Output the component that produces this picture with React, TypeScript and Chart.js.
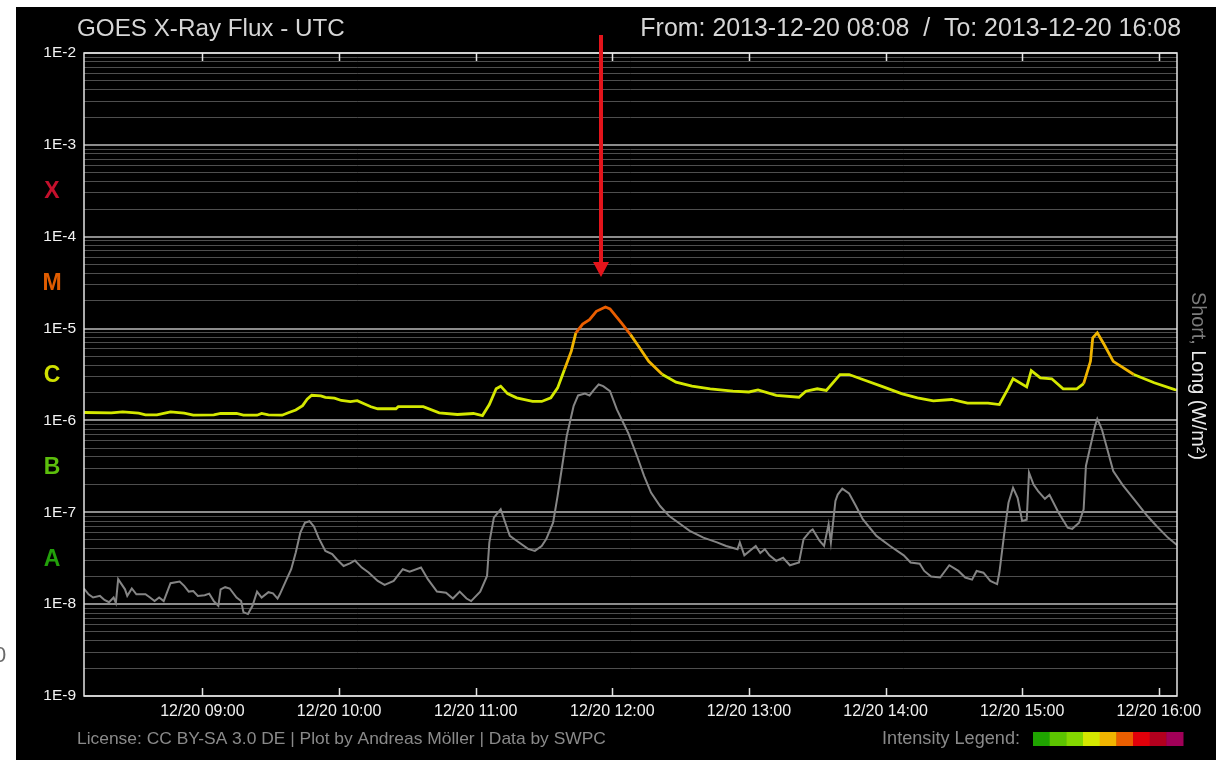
import React, { useEffect, useRef } from "react";
import { Chart, registerables } from "chart.js";

Chart.register(...registerables);

// GOES long channel (1-8 Å), W/m²
const longTimes = [
  "08:08", "08:20", "08:25", "08:32", "08:35", "08:40", "08:46", "08:52", "08:56", "09:05",
  "09:08", "09:15", "09:18", "09:24", "09:26", "09:29", "09:35", "09:38", "09:41", "09:44",
  "09:46", "09:48", "09:52", "09:54", "09:58", "10:01", "10:05", "10:08", "10:11", "10:14",
  "10:17", "10:25", "10:26", "10:37", "10:44", "10:52", "10:59", "11:03", "11:06", "11:09",
  "11:11", "11:14", "11:18", "11:25", "11:29", "11:33", "11:36", "11:39", "11:42", "11:44",
  "11:47", "11:50", "11:53", "11:57", "11:59", "12:04", "12:08", "12:11", "12:16", "12:22",
  "12:28", "12:35", "12:43", "12:53", "13:00", "13:04", "13:12", "13:22", "13:25", "13:30",
  "13:34", "13:40", "13:44", "13:50", "13:59", "14:07", "14:14", "14:21", "14:29", "14:36",
  "14:45", "14:50", "14:54", "14:56", "15:02", "15:04", "15:08", "15:13", "15:18", "15:24",
  "15:27", "15:30", "15:31", "15:33", "15:36", "15:40", "15:49", "15:58", "16:07", "16:08",
];
const longFlux = [
  1.22e-6, 1.21e-6, 1.24e-6, 1.2e-6, 1.15e-6, 1.15e-6, 1.24e-6, 1.2e-6, 1.14e-6, 1.15e-6,
  1.19e-6, 1.19e-6, 1.14e-6, 1.14e-6, 1.19e-6, 1.15e-6, 1.14e-6, 1.22e-6, 1.3e-6, 1.45e-6,
  1.7e-6, 1.88e-6, 1.85e-6, 1.78e-6, 1.75e-6, 1.65e-6, 1.6e-6, 1.64e-6, 1.52e-6, 1.41e-6,
  1.34e-6, 1.34e-6, 1.41e-6, 1.41e-6, 1.21e-6, 1.16e-6, 1.19e-6, 1.13e-6, 1.49e-6, 2.21e-6,
  2.36e-6, 1.96e-6, 1.76e-6, 1.61e-6, 1.61e-6, 1.76e-6, 2.26e-6, 3.58e-6, 5.67e-6, 8.97e-6,
  1.12e-5, 1.25e-5, 1.54e-5, 1.72e-5, 1.64e-5, 1.15e-5, 8.6e-6, 6.7e-6, 4.4e-6, 3.16e-6,
  2.61e-6, 2.36e-6, 2.21e-6, 2.08e-6, 2.04e-6, 2.15e-6, 1.87e-6, 1.79e-6, 2.08e-6, 2.21e-6,
  2.12e-6, 3.16e-6, 3.16e-6, 2.79e-6, 2.32e-6, 1.96e-6, 1.76e-6, 1.63e-6, 1.69e-6, 1.54e-6,
  1.54e-6, 1.49e-6, 2.26e-6, 2.84e-6, 2.32e-6, 3.49e-6, 2.9e-6, 2.84e-6, 2.21e-6, 2.21e-6,
  2.52e-6, 4.4e-6, 7.92e-6, 8.97e-6, 6.7e-6, 4.4e-6, 3.16e-6, 2.57e-6, 2.17e-6, 2.15e-6,
];

// GOES short channel (0.5-4 Å), W/m²
const shortTimes = [
  "08:08", "08:10", "08:12", "08:15", "08:17", "08:19", "08:21", "08:22", "08:23", "08:26",
  "08:27", "08:29", "08:31", "08:35", "08:37", "08:39", "08:41", "08:43", "08:46", "08:50",
  "08:52", "08:54", "08:56", "08:58", "09:01", "09:03", "09:05", "09:07", "09:08", "09:10",
  "09:12", "09:15", "09:17", "09:18", "09:20", "09:22", "09:24", "09:26", "09:29", "09:31",
  "09:33", "09:34", "09:37", "09:39", "09:41", "09:43", "09:45", "09:47", "09:49", "09:51",
  "09:54", "09:57", "09:59", "10:02", "10:05", "10:07", "10:10", "10:13", "10:17", "10:20",
  "10:24", "10:28", "10:31", "10:36", "10:39", "10:43", "10:47", "10:50", "10:53", "10:56",
  "10:58", "11:02", "11:05", "11:06", "11:08", "11:11", "11:13", "11:15", "11:18", "11:23",
  "11:26", "11:29", "11:31", "11:34", "11:36", "11:38", "11:40", "11:43", "11:45", "11:48",
  "11:50", "11:52", "11:54", "11:56", "11:59", "12:02", "12:07", "12:11", "12:14", "12:17",
  "12:21", "12:25", "12:30", "12:34", "12:40", "12:46", "12:50", "12:55", "12:56", "12:58",
  "13:03", "13:05", "13:07", "13:09", "13:12", "13:15", "13:18", "13:22", "13:24", "13:27",
  "13:28", "13:31", "13:33", "13:35", "13:36", "13:38", "13:39", "13:41", "13:44", "13:47",
  "13:50", "13:56", "14:02", "14:08", "14:11", "14:15", "14:17", "14:20", "14:24", "14:28",
  "14:32", "14:35", "14:38", "14:40", "14:43", "14:46", "14:49", "14:50", "14:52", "14:54",
  "14:56", "14:58", "15:00", "15:02", "15:03", "15:05", "15:07", "15:10", "15:12", "15:16",
  "15:20", "15:22", "15:25", "15:27", "15:28", "15:30", "15:32", "15:33", "15:35", "15:37",
  "15:40", "15:44", "15:49", "15:55", "15:59", "16:04", "16:08",
];
const shortFlux = [
  1.48e-8, 1.28e-8, 1.18e-8, 1.23e-8, 1.11e-8, 1.05e-8, 1.18e-8, 1.03e-8, 1.87e-8, 1.45e-8,
  1.23e-8, 1.48e-8, 1.28e-8, 1.28e-8, 1.18e-8, 1.08e-8, 1.18e-8, 1.08e-8, 1.69e-8, 1.76e-8,
  1.58e-8, 1.37e-8, 1.39e-8, 1.23e-8, 1.25e-8, 1.3e-8, 1.08e-8, 9.6e-9, 1.45e-8, 1.53e-8,
  1.48e-8, 1.18e-8, 1.08e-8, 8.2e-9, 7.8e-9, 9.6e-9, 1.37e-8, 1.18e-8, 1.35e-8, 1.31e-8,
  1.15e-8, 1.28e-8, 1.87e-8, 2.4e-8, 3.65e-8, 6.0e-8, 7.7e-8, 8.0e-8, 7.0e-8, 5.3e-8,
  3.8e-8, 3.5e-8, 3.08e-8, 2.6e-8, 2.8e-8, 2.99e-8, 2.5e-8, 2.21e-8, 1.79e-8, 1.62e-8,
  1.79e-8, 2.4e-8, 2.25e-8, 2.5e-8, 1.87e-8, 1.37e-8, 1.33e-8, 1.15e-8, 1.37e-8, 1.15e-8,
  1.08e-8, 1.37e-8, 2.03e-8, 4.68e-8, 8.75e-8, 1.08e-7, 7.7e-8, 5.53e-8, 4.9e-8, 4.0e-8,
  3.8e-8, 4.3e-8, 5.1e-8, 7.7e-8, 1.51e-7, 3.19e-7, 6.76e-7, 1.43e-6, 1.87e-6, 1.96e-6,
  1.87e-6, 2.17e-6, 2.46e-6, 2.36e-6, 2.08e-6, 1.32e-6, 7.3e-7, 4.0e-7, 2.48e-7, 1.64e-7,
  1.17e-7, 9.1e-8, 7.4e-8, 6.27e-8, 5.3e-8, 4.7e-8, 4.3e-8, 3.96e-8, 4.7e-8, 3.4e-8,
  4.3e-8, 3.6e-8, 3.96e-8, 3.4e-8, 2.96e-8, 3.2e-8, 2.65e-8, 2.85e-8, 5.1e-8, 6.27e-8,
  6.5e-8, 4.9e-8, 4.3e-8, 7.4e-8, 4.7e-8, 1.33e-7, 1.56e-7, 1.81e-7, 1.6e-7, 1.17e-7,
  8.4e-8, 5.53e-8, 4.3e-8, 3.4e-8, 2.84e-8, 2.75e-8, 2.3e-8, 2.0e-8, 1.95e-8, 2.65e-8,
  2.3e-8, 1.95e-8, 1.85e-8, 2.3e-8, 2.2e-8, 1.79e-8, 1.65e-8, 2.21e-8, 5.53e-8, 1.27e-7,
  1.85e-7, 1.44e-7, 8.05e-8, 8.3e-8, 2.7e-7, 2.0e-7, 1.7e-7, 1.4e-7, 1.55e-7, 9.9e-8,
  6.8e-8, 6.6e-8, 7.7e-8, 1.08e-7, 3.19e-7, 5.26e-7, 8.67e-7, 1.04e-6, 8.0e-7, 5.26e-7,
  2.81e-7, 2.0e-7, 1.4e-7, 9.1e-8, 7.1e-8, 5.3e-8, 4.4e-8,
];

const dateLabel = "12/20";
const fromStamp = "2013-12-20 08:08";
const toStamp = "2013-12-20 16:08";
const rangeStart = "08:08";
const rangeEnd = "16:08";
const hourTicks = ["09:00", "10:00", "11:00", "12:00", "13:00", "14:00", "15:00", "16:00"];
const markerTime = "11:55";

// Flare classes and their lower flux bounds
const classLetters = ["A", "B", "C", "M", "X"];
const classFloors = [1e-8, 1e-7, 1e-6, 1e-5, 1e-4];
const classColors = ["#22a00a", "#5cbe0c", "#cfe000", "#e05c00", "#c4102c"];

// Intensity legend: colour steps for the long channel
const intensityFloors = [0, 1e-7, 5e-7, 1e-6, 4e-6, 1e-5, 5e-5, 1e-4, 1e-3];
const intensityColors = [
  "#1fa300", "#5cc400", "#84d800", "#d4e800", "#f0b400",
  "#ea5e00", "#e0000a", "#b2001e", "#a00058",
];

const FONT = '"Liberation Sans", Arial, Helvetica, sans-serif';

const toMin = (s: string) => {
  const [h, m] = s.split(":").map(Number);
  return h * 60 + m;
};
const fmtMin = (v: number) => {
  const h = Math.floor(v / 60);
  const m = Math.round(v % 60);
  return `${String(h).padStart(2, "0")}:${String(m).padStart(2, "0")}`;
};
const intensityColor = (v: number) => {
  let c = intensityColors[0];
  intensityFloors.forEach((f, i) => {
    if (v >= f) c = intensityColors[i];
  });
  return c;
};
const isDecade = (v: number) => {
  const l = Math.log10(v);
  return Math.abs(l - Math.round(l)) < 1e-6;
};

function fitSize(ctx: CanvasRenderingContext2D, text: string, width: number, weight = "normal") {
  ctx.font = `${weight} 100px ${FONT}`;
  return (100 * width) / ctx.measureText(text).width;
}

const decorPlugin = {
  id: "goesDecor",
  beforeDraw(chart: any) {
    const { ctx, width, height } = chart;
    ctx.save();
    ctx.fillStyle = "#ffffff";
    ctx.fillRect(0, 0, width, height);
    ctx.fillStyle = "#6a6a6a";
    ctx.font = `normal 22px ${FONT}`;
    ctx.textBaseline = "middle";
    ctx.fillText("0", -6, 656);
    ctx.fillStyle = "#000000";
    ctx.fillRect(16, 7, width - 16, height - 7);
    ctx.restore();
  },
  afterDraw(chart: any) {
    const { ctx, chartArea } = chart;
    const { left, right, top, bottom } = chartArea;
    const xs = chart.scales.x;
    const ys = chart.scales.y;
    ctx.save();

    // plot frame
    ctx.strokeStyle = "#e4e4e4";
    ctx.lineWidth = 1.5;
    ctx.strokeRect(left, top, right - left, bottom - top);

    // inward hour ticks on top and bottom edges
    ctx.lineWidth = 1.5;
    hourTicks.forEach((t) => {
      const x = Math.round(xs.getPixelForValue(toMin(t))) + 0.5;
      ctx.beginPath();
      ctx.moveTo(x, bottom);
      ctx.lineTo(x, bottom - 8);
      ctx.moveTo(x, top);
      ctx.lineTo(x, top + 8);
      ctx.stroke();
    });

    // titles
    ctx.textBaseline = "middle";
    const title = "GOES X-Ray Flux - UTC";
    ctx.font = `normal ${fitSize(ctx, title, 268)}px ${FONT}`;
    ctx.fillStyle = "#d6d6d6";
    ctx.textAlign = "left";
    ctx.fillText(title, 77, 29);
    const range = `From: ${fromStamp}  /  To: ${toStamp}`;
    ctx.font = `normal ${fitSize(ctx, range, 541)}px ${FONT}`;
    ctx.textAlign = "right";
    ctx.fillText(range, 1181, 29);

    // flare class letters between decades
    ctx.textAlign = "center";
    ctx.font = `bold 23px ${FONT}`;
    classLetters.forEach((c, i) => {
      const y = ys.getPixelForValue(classFloors[i] * Math.sqrt(10));
      ctx.fillStyle = classColors[i];
      ctx.fillText(c, 52, y + 1);
    });

    // rotated unit label on the right
    const part1 = "Short,";
    const part2 = " Long (W/m²)";
    const sz = fitSize(ctx, part1 + part2, 168);
    ctx.font = `normal ${sz}px ${FONT}`;
    const w1 = ctx.measureText(part1).width;
    const wAll = ctx.measureText(part1 + part2).width;
    ctx.translate(1197, 376);
    ctx.rotate(Math.PI / 2);
    ctx.textAlign = "left";
    ctx.fillStyle = "#7c7c7c";
    ctx.fillText(part1, -wAll / 2, 0);
    ctx.fillStyle = "#e8e8e8";
    ctx.fillText(part2, -wAll / 2 + w1, 0);
    ctx.setTransform(1, 0, 0, 1, 0, 0);

    // footer
    const footer = "License: CC BY-SA 3.0 DE | Plot by Andreas Möller | Data by SWPC";
    ctx.font = `normal ${fitSize(ctx, footer, 529)}px ${FONT}`;
    ctx.fillStyle = "#8a8a8a";
    ctx.textAlign = "left";
    ctx.fillText(footer, 77, 739);
    const legendText = "Intensity Legend:";
    ctx.font = `normal ${fitSize(ctx, legendText, 138)}px ${FONT}`;
    ctx.textAlign = "right";
    ctx.fillText(legendText, 1020, 739);
    const bw = 150 / intensityColors.length;
    intensityColors.forEach((c, i) => {
      ctx.fillStyle = c;
      ctx.fillRect(1033 + i * bw, 732, bw + 0.5, 14);
    });

    // marker arrow above the flare peak
    const ax = Math.round(xs.getPixelForValue(toMin(markerTime)));
    ctx.strokeStyle = "#e3141b";
    ctx.fillStyle = "#e3141b";
    ctx.lineWidth = 4;
    ctx.beginPath();
    ctx.moveTo(ax, 35);
    ctx.lineTo(ax, 264);
    ctx.stroke();
    ctx.beginPath();
    ctx.moveTo(ax - 8, 262);
    ctx.lineTo(ax + 8, 262);
    ctx.lineTo(ax, 277);
    ctx.closePath();
    ctx.fill();

    ctx.restore();
  },
};

export default function App() {
  const ref = useRef<HTMLCanvasElement | null>(null);

  useEffect(() => {
    if (!ref.current) return;
    Chart.defaults.font.family = FONT;
    const longData = longTimes.map((t, i) => ({ x: toMin(t), y: longFlux[i] }));
    const shortData = shortTimes.map((t, i) => ({ x: toMin(t), y: shortFlux[i] }));

    const chart = new Chart(ref.current, {
      type: "line",
      data: {
        datasets: [
          {
            label: "Short",
            data: shortData,
            borderColor: "#858585",
            borderWidth: 2,
            pointRadius: 0,
            tension: 0,
          },
          {
            label: "Long",
            data: longData,
            borderColor: intensityColors[3],
            borderWidth: 2.8,
            pointRadius: 0,
            tension: 0,
            segment: {
              borderColor: (c: any) => intensityColor(Math.max(c.p0.parsed.y, c.p1.parsed.y)),
            },
          },
        ],
      },
      options: {
        animation: false,
        responsive: false,
        devicePixelRatio: 1,
        layout: { padding: { top: 53, right: 39, bottom: 0, left: 0 } },
        plugins: {
          legend: { display: false },
          tooltip: { enabled: false },
          title: { display: false },
        },
        scales: {
          x: {
            type: "linear",
            min: toMin(rangeStart),
            max: toMin(rangeEnd),
            afterBuildTicks: (scale: any) => {
              scale.ticks = hourTicks.map((t) => ({ value: toMin(t) }));
            },
            afterFit: (scale: any) => {
              scale.height = 64;
            },
            grid: { display: false, drawTicks: false },
            border: { display: false },
            ticks: {
              autoSkip: false,
              maxRotation: 0,
              padding: 6,
              color: "#f0f0f0",
              font: { size: 16, family: FONT },
              callback: (v: any) => `${dateLabel} ${fmtMin(Number(v))}`,
            },
          },
          y: {
            type: "logarithmic",
            min: 1e-9,
            max: 1e-2,
            afterBuildTicks: (scale: any) => {
              const ticks: { value: number }[] = [];
              for (let e = -9; e < -2; e++) {
                for (let m = 1; m < 10; m++) ticks.push({ value: m * Math.pow(10, e) });
              }
              ticks.push({ value: 1e-2 });
              scale.ticks = ticks;
            },
            afterFit: (scale: any) => {
              scale.width = 84;
            },
            grid: {
              drawTicks: false,
              color: (c: any) => (isDecade(c.tick.value) ? "#8c8c8c" : "#4e4e4e"),
              lineWidth: (c: any) => (isDecade(c.tick.value) ? 2 : 1),
            },
            border: { display: false },
            ticks: {
              autoSkip: false,
              padding: 8,
              color: "#f2f2f2",
              font: { size: 15.5, family: FONT },
              callback: (v: any) => {
                const n = Number(v);
                return isDecade(n) ? `1E${Math.round(Math.log10(n))}` : "";
              },
            },
          },
        },
      },
      plugins: [decorPlugin],
    });
    return () => chart.destroy();
  }, []);

  return (
    <canvas
      ref={ref}
      width={1216}
      height={760}
      style={{ position: "absolute", left: 0, top: 0, width: 1216, height: 760, display: "block" }}
    />
  );
}
